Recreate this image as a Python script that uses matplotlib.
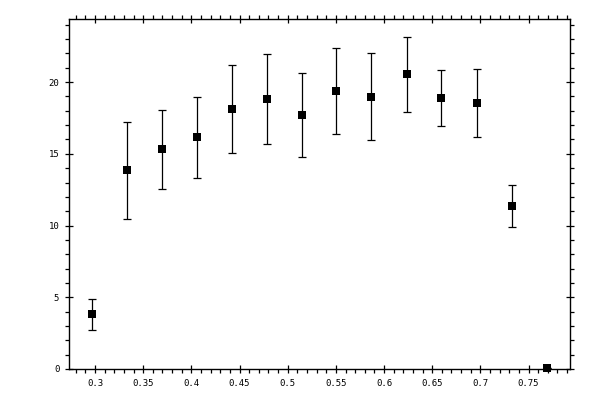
import matplotlib
matplotlib.use("Agg")
import matplotlib.pyplot as plt
from matplotlib.ticker import MultipleLocator
import numpy as np

x = [0.2972, 0.3335, 0.3699, 0.4062, 0.4426, 0.4789, 0.5153,
     0.5506, 0.5869, 0.6233, 0.6596, 0.6960, 0.7323, 0.7687]
y = [3.81, 13.85, 15.31, 16.15, 18.10, 18.79, 17.68,
     19.35, 18.93, 20.54, 18.86, 18.52, 11.34, 0.09]
y_top = [4.90, 17.19, 18.03, 18.93, 21.16, 21.95, 20.61,
         22.35, 22.00, 23.18, 20.82, 20.88, 12.80, 0.09]
y_bot = [2.72, 10.43, 12.52, 13.29, 15.03, 15.66, 14.77,
         16.35, 15.94, 17.89, 16.91, 16.15, 9.87, 0.09]

y = np.array(y)
err_lo = y - np.array(y_bot)
err_hi = np.array(y_top) - y

fig = plt.figure(figsize=(6, 4), dpi=100)
ax = fig.add_axes([0.115, 0.0775, 0.835, 0.875])

ax.errorbar(x, y, yerr=[err_lo, err_hi], fmt="none", ecolor="black",
            elinewidth=0.9, capsize=3, capthick=0.9, clip_on=False)
ax.plot(x, y, "s", color="black", markersize=5.5, markeredgewidth=0,
        clip_on=False, zorder=3)

ax.set_xlim(0.273, 0.793)
ax.set_ylim(0, 24.4)
ax.xaxis.set_major_locator(MultipleLocator(0.05))
ax.xaxis.set_minor_locator(MultipleLocator(0.01))
ax.yaxis.set_major_locator(MultipleLocator(5))
ax.yaxis.set_minor_locator(MultipleLocator(1))
ax.set_xticks([0.3, 0.35, 0.4, 0.45, 0.5, 0.55, 0.6, 0.65, 0.7, 0.75])
ax.set_xticklabels(["0.3", "0.35", "0.4", "0.45", "0.5", "0.55",
                    "0.6", "0.65", "0.7", "0.75"])

ax.tick_params(which="both", top=True, right=True, labelsize=6.5,
               width=0.9, colors="black")
ax.tick_params(which="major", direction="inout", length=6, pad=4)
ax.tick_params(which="minor", direction="out", length=3)
for lab in ax.get_xticklabels() + ax.get_yticklabels():
    lab.set_family("DejaVu Sans Mono")
for sp in ax.spines.values():
    sp.set_linewidth(1.0)

fig.savefig("out.png", dpi=100)
